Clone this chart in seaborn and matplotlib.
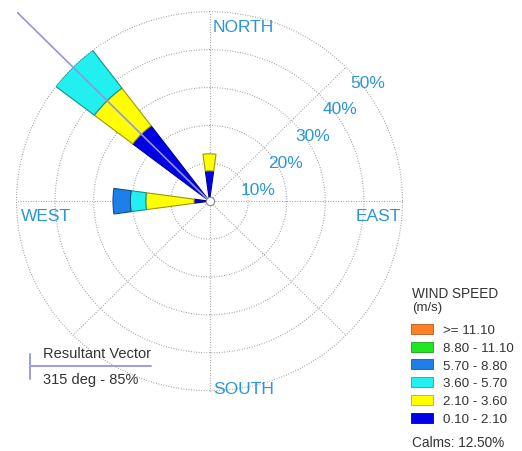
import numpy as np
import pandas as pd
import matplotlib
matplotlib.use("Agg")
import matplotlib.pyplot as plt
from matplotlib.patches import Rectangle
from matplotlib.lines import Line2D
import seaborn as sns

# ---- data -------------------------------------------------------------
direction_names = ["NORTH", "WEST", "NORTHWEST"]
direction_deg = [0, 270, 315]
speed_bins = ["0.10 - 2.10", "2.10 - 3.60", "3.60 - 5.70",
              "5.70 - 8.80", "8.80 - 11.10", ">= 11.10"]
freq_north = [8.0, 4.5, 0.0, 0.0, 0.0, 0.0]
freq_west = [4.0, 12.5, 4.0, 4.5, 0.0, 0.0]
freq_northwest = [25.0, 12.5, 12.5, 0.0, 0.0, 0.0]
ring_pct = [10, 20, 30, 40, 50]
ring_labels = ["10%", "20%", "30%", "40%", "50%"]
compass_labels = ["NORTH", "EAST", "SOUTH", "WEST"]
compass_deg = [0, 90, 180, 270]
calms_pct = 12.50
resultant_deg = 315
resultant_pct = 85

bin_colors = sns.color_palette(["#0000e6", "#ffff00", "#22f0f0",
                                "#1e7fe8", "#22e622", "#ff7f27"])

freq = pd.DataFrame([freq_north, freq_west, freq_northwest],
                    index=direction_names, columns=speed_bins)
freq["deg"] = direction_deg

# ---- style ------------------------------------------------------------
sns.set_theme(style="white")
plt.rcParams["font.family"] = ["Liberation Sans", "DejaVu Sans"]

W, H = 522, 452
fig = plt.figure(figsize=(W / 100, H / 100), dpi=100)
fig.patch.set_facecolor("white")

cx, cy, rx, ry = 209.5, 202.2, 193.0, 189.5
ax = fig.add_axes([(cx - rx) / W, (H - cy - ry) / H, 2 * rx / W, 2 * ry / H],
                  projection="polar")
ax.set_aspect("auto")
ax.set_theta_zero_location("N")
ax.set_theta_direction(-1)
ax.set_ylim(0, ring_pct[-1])
ax.grid(False)
ax.set_xticks([])
ax.set_yticks([])
ax.spines["polar"].set_visible(False)
ax.patch.set_alpha(0)

grid_kw = dict(color="#8c8c8c", lw=0.8, ls=(0, (0.7, 1.6)), clip_on=False, zorder=1)
theta_full = np.linspace(0, 2 * np.pi, 721)
for r in ring_pct:
    ax.plot(theta_full, np.full_like(theta_full, r), **grid_kw)
for a in range(0, 360, 45):
    ax.plot([np.deg2rad(a)] * 2, [0, ring_pct[-1]], **grid_kw)

# ---- stacked wind-rose petals ----------------------------------------
width = np.deg2rad(15.5)
for name, row in freq.iterrows():
    bottom = 0.0
    for b, col in zip(speed_bins, bin_colors):
        v = row[b]
        if v > 0:
            edge = tuple(c * 0.6 for c in col)
            ax.bar(np.deg2rad(row["deg"]), v, width=width, bottom=bottom,
                   color=col, edgecolor=edge, linewidth=0.8, zorder=3)
            bottom += v

# resultant vector, clipped to the axes rectangle rather than the circle
ln, = ax.plot([np.deg2rad(resultant_deg)] * 2, [0, resultant_pct],
              color="#9494e0", lw=1.2, zorder=4)
ln.set_clip_path(None)
ln.set_clip_box(ax.bbox)

ax.plot([0], [0], "o", ms=6, mfc="white", mec="#8a8a8a", mew=0.8,
        zorder=6, clip_on=False)

# ---- labels on the rose ----------------------------------------------
label_color = "#2a96d6"
pt = 0.72  # points per pixel at 100 dpi
compass_offsets = {"NORTH": ((3.5, -19.3), "left"),
                   "EAST": ((-1.7, -19.0), "right"),
                   "SOUTH": ((3.5, -2.3), "left"),
                   "WEST": ((4.0, -18.7), "left")}
for lab, deg in zip(compass_labels, compass_deg):
    (ox, oy), ha = compass_offsets[lab]
    ax.annotate(lab, xy=(np.deg2rad(deg), ring_pct[-1]), xycoords="data",
                xytext=(ox * pt, oy * pt), textcoords="offset points",
                ha=ha, va="baseline", fontsize=12.5, color=label_color,
                annotation_clip=False)

for r, lab in zip(ring_pct, ring_labels):
    ax.annotate(lab, xy=(np.deg2rad(45), r), xycoords="data",
                xytext=(21.5 * pt, -19.3 * pt), textcoords="offset points",
                ha="center", va="baseline", fontsize=12.5, color=label_color,
                annotation_clip=False)

# ---- speed legend ------------------------------------------------------
def fx(x):
    return x / W


def fy(y):
    return 1 - y / H


text_color = "#333333"
fig.text(fx(411.7), fy(297.5), "WIND SPEED", fontsize=9.8, color=text_color,
         va="baseline", ha="left")
fig.text(fx(411.7), fy(311), "(m/s)", fontsize=9.5, color=text_color,
         va="baseline", ha="left")
row_step = 17.7
for i, (b, col) in enumerate(zip(speed_bins[::-1], bin_colors[::-1])):
    yc = 330 + i * row_step
    fig.patches.append(Rectangle((fx(410.7), fy(yc + 5)), 22 / W, 10 / H,
                                 transform=fig.transFigure, facecolor=col,
                                 edgecolor=tuple(c * 0.7 for c in col), lw=0.6))
    fig.text(fx(443.3), fy(yc + 4.2), b, fontsize=9.6, color=text_color,
             va="baseline", ha="left")
fig.text(fx(411.7), fy(447.5), f"Calms: {calms_pct:.2f}%", fontsize=9.8,
         color=text_color, va="baseline", ha="left")

# ---- resultant vector key ---------------------------------------------
vec_color = "#9c9ce0"
fig.lines.append(Line2D([fx(30), fx(150.5)], [fy(367.3), fy(367.3)],
                        transform=fig.transFigure, color=vec_color, lw=1.4))
fig.lines.append(Line2D([fx(30), fx(30)], [fy(355), fy(380)],
                        transform=fig.transFigure, color=vec_color, lw=1.4))
fig.text(fx(43.3), fy(358.3), "Resultant Vector", fontsize=10.5,
         color=text_color, va="baseline", ha="left")
fig.text(fx(43.3), fy(384), f"{resultant_deg} deg - {resultant_pct}%",
         fontsize=10.5, color=text_color, va="baseline", ha="left")

fig.savefig("out.png", dpi=100, facecolor="white")
